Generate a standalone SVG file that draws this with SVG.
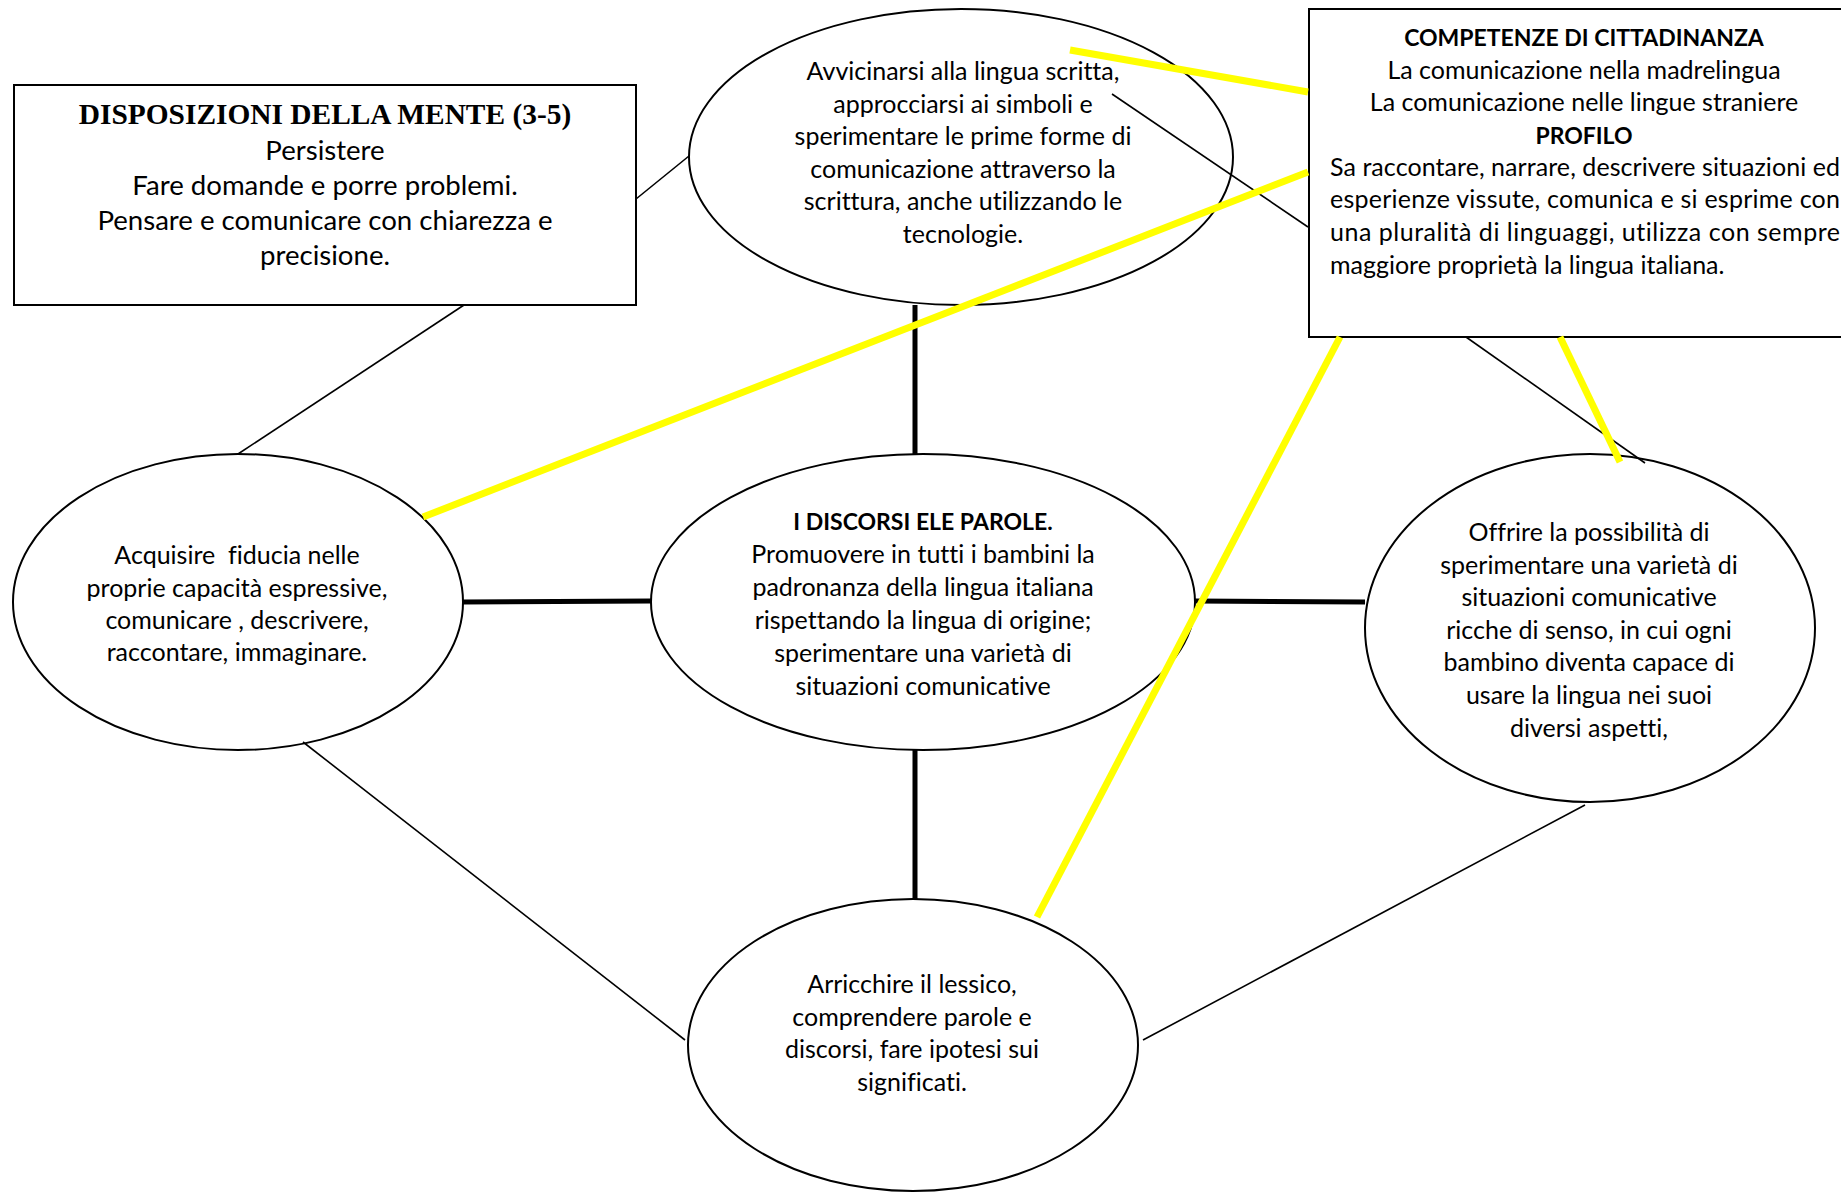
<svg xmlns="http://www.w3.org/2000/svg" width="1841" height="1192" viewBox="0 0 1841 1192">
  <style>
    .box { fill: #fff; stroke: #000; stroke-width: 2; }
    .oval { fill: #fff; stroke: #000; stroke-width: 2; }
    .txt { font-family: Lato, "Liberation Sans", sans-serif; font-size: 25px; fill: #000; text-anchor: middle; font-variant-ligatures: none; font-feature-settings: "liga" 0, "clig" 0; }
    .big { font-size: 27.6px; }
    .b { font-weight: bold; font-size: 23px; }
    .title { font-family: "Liberation Serif", serif; font-weight: bold; font-size: 29.4px; text-anchor: middle; fill: #000; }
    .left { text-anchor: start; }
    .thin { stroke: #000; stroke-width: 1.6; fill: none; }
    .thick { stroke: #000; stroke-width: 5; fill: none; }
    .hl { stroke: #ffff00; stroke-width: 7; fill: none; }
  </style>

  <rect width="1841" height="1192" fill="#fff"/>

  <!-- nodes -->
  <g id="disposizioni">
    <rect class="box" x="14" y="85" width="622" height="220"/>
    <text class="title" x="325" y="124">DISPOSIZIONI DELLA MENTE (3-5)</text>
    <text class="txt big" x="325" y="160">Persistere</text>
    <text class="txt big" x="325" y="195">Fare domande e porre problemi.</text>
    <text class="txt big" x="325" y="230">Pensare e comunicare con chiarezza e</text>
    <text class="txt big" x="325" y="265">precisione.</text>
  </g>

  <g id="lingua-scritta">
    <ellipse class="oval" cx="961" cy="157" rx="272" ry="148"/>
    <text class="txt" x="963" y="80">Avvicinarsi alla lingua scritta,</text>
    <text class="txt" x="963" y="113">approcciarsi ai simboli e</text>
    <text class="txt" x="963" y="145">sperimentare le prime forme di</text>
    <text class="txt" x="963" y="178">comunicazione attraverso la</text>
    <text class="txt" x="963" y="210">scrittura, anche utilizzando le</text>
    <text class="txt" x="963" y="243">tecnologie.</text>
  </g>

  <g id="competenze">
    <rect class="box" x="1309" y="9" width="570" height="328"/>
    <text class="txt b" x="1584" y="46">COMPETENZE DI CITTADINANZA</text>
    <text class="txt" x="1584" y="79">La comunicazione nella madrelingua</text>
    <text class="txt" x="1584" y="111">La comunicazione nelle lingue straniere</text>
    <text class="txt b" x="1584" y="144">PROFILO</text>
    <!-- justified paragraph lines -->
    <text class="txt left" x="1330" y="176" textLength="510" lengthAdjust="spacing">Sa raccontare, narrare, descrivere situazioni ed</text>
    <text class="txt left" x="1330" y="208" textLength="510" lengthAdjust="spacing">esperienze vissute, comunica e si esprime con</text>
    <text class="txt left" x="1330" y="241" textLength="510" lengthAdjust="spacing">una pluralità di linguaggi, utilizza con sempre</text>
    <text class="txt left" x="1330" y="274">maggiore proprietà la lingua italiana.</text>
  </g>

  <g id="fiducia">
    <ellipse class="oval" cx="238" cy="602" rx="225" ry="148"/>
    <text class="txt" x="237" y="564" xml:space="preserve">Acquisire  fiducia nelle</text>
    <text class="txt" x="237" y="597">proprie capacità espressive,</text>
    <text class="txt" x="237" y="629">comunicare , descrivere,</text>
    <text class="txt" x="237" y="661">raccontare, immaginare.</text>
  </g>

  <g id="discorsi-parole">
    <ellipse class="oval" cx="923" cy="602" rx="272" ry="148"/>
    <text class="txt b" x="923" y="530">I DISCORSI ELE PAROLE.</text>
    <text class="txt" x="923" y="563">Promuovere in tutti i bambini la</text>
    <text class="txt" x="923" y="596">padronanza della lingua italiana</text>
    <text class="txt" x="923" y="629">rispettando la lingua di origine;</text>
    <text class="txt" x="923" y="662">sperimentare una varietà di</text>
    <text class="txt" x="923" y="695">situazioni comunicative</text>
  </g>

  <g id="situazioni">
    <ellipse class="oval" cx="1590" cy="628" rx="225" ry="174"/>
    <text class="txt" x="1589" y="541">Offrire la possibilità di</text>
    <text class="txt" x="1589" y="574">sperimentare una varietà di</text>
    <text class="txt" x="1589" y="606">situazioni comunicative</text>
    <text class="txt" x="1589" y="639">ricche di senso, in cui ogni</text>
    <text class="txt" x="1589" y="671">bambino diventa capace di</text>
    <text class="txt" x="1589" y="704">usare la lingua nei suoi</text>
    <text class="txt" x="1589" y="737">diversi aspetti,</text>
  </g>

  <g id="lessico">
    <ellipse class="oval" cx="913" cy="1045" rx="225" ry="146"/>
    <text class="txt" x="912" y="993">Arricchire il lessico,</text>
    <text class="txt" x="912" y="1026">comprendere parole e</text>
    <text class="txt" x="912" y="1058">discorsi, fare ipotesi sui</text>
    <text class="txt" x="912" y="1091">significati.</text>
  </g>

  <!-- connectors -->
  <g id="connectors">
    <line class="thin" x1="636" y1="199" x2="689" y2="156"/>
    <line class="thin" x1="464" y1="305" x2="238" y2="454"/>
    <line class="thin" x1="1112" y1="94" x2="1308" y2="227"/>
    <line class="thin" x1="1466" y1="337" x2="1645" y2="463"/>
    <line class="thin" x1="303" y1="742" x2="685" y2="1040"/>
    <line class="thin" x1="1585" y1="805" x2="1143" y2="1040"/>

    <line class="thick" x1="915" y1="305" x2="915" y2="454"/>
    <line class="thick" x1="915" y1="750" x2="915" y2="899"/>
    <line class="thick" x1="463" y1="602" x2="651" y2="601"/>
    <line class="thick" x1="1195" y1="601" x2="1365" y2="602"/>

    <line class="hl" x1="1070" y1="50" x2="1308" y2="92"/>
    <line class="hl" x1="423" y1="517" x2="1308" y2="172"/>
    <line class="hl" x1="1340" y1="337" x2="1037" y2="917"/>
    <line class="hl" x1="1560" y1="337" x2="1620" y2="462"/>
  </g>
</svg>
